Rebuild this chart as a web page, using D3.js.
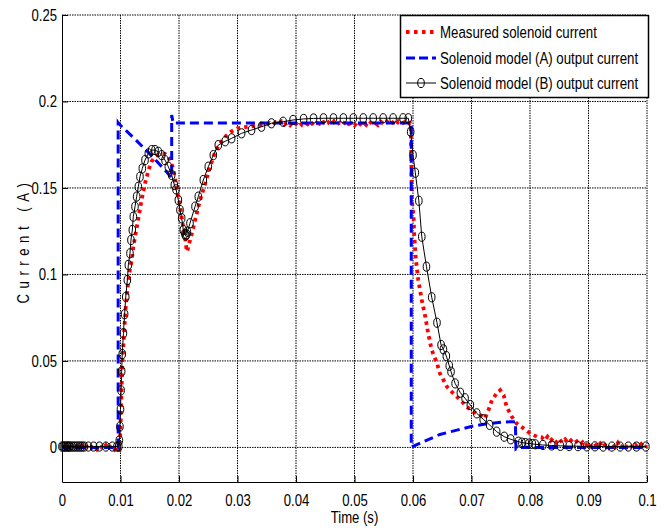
<!DOCTYPE html>
<html>
<head>
<meta charset="utf-8">
<script src="https://cdn.jsdelivr.net/npm/d3@7"></script>
<style>
  body { margin: 0; background: #fff; }
  text { font-family: "Liberation Sans Narrow", "Arial Narrow", "Liberation Sans", sans-serif; fill: #000; }
</style>
</head>
<body>
<svg id="chart" width="665" height="530"></svg>
<script>
// Axis ticks
const timeTicks = [0, 0.01, 0.02, 0.03, 0.04, 0.05, 0.06, 0.07, 0.08, 0.09, 0.1];
const timeTickLabels = ["0", "0.01", "0.02", "0.03", "0.04", "0.05", "0.06", "0.07", "0.08", "0.09", "0.1"];
const currentTicks = [0, 0.05, 0.1, 0.15, 0.2, 0.25];
const currentTickLabels = ["0", "0.05", "0.1", "0.15", "0.2", "0.25"];

// Series names
const seriesNames = ["Measured solenoid current", "Solenoid model (A) output current", "Solenoid model (B) output current"];

// Measured solenoid current (s, A)
const measuredTime = [
  0, 0.0005, 0.001, 0.0015, 0.002, 0.0025, 0.003, 0.0035, 0.004, 0.0045,
  0.005, 0.0055, 0.006, 0.0065, 0.007, 0.0075, 0.008, 0.0085, 0.009, 0.0095,
  0.0097, 0.0098, 0.0099, 0.0100, 0.0101, 0.0102, 0.0103, 0.0105, 0.0107, 0.0109,
  0.0111, 0.0113, 0.0115, 0.0119, 0.0122, 0.0126, 0.0131, 0.0136, 0.0142, 0.0148,
  0.0153, 0.0159, 0.0168, 0.0176, 0.0183, 0.0189, 0.0193, 0.0196, 0.0202, 0.0207,
  0.0211, 0.0213, 0.0214, 0.0216, 0.0222, 0.0229, 0.0236, 0.0245, 0.0253, 0.0261,
  0.0270, 0.0280, 0.0290, 0.0300, 0.0313, 0.0327, 0.0340, 0.0350,
  0.0355, 0.036, 0.0365, 0.037, 0.0375, 0.038, 0.0385, 0.039, 0.0395, 0.04,
  0.0405, 0.041, 0.0415, 0.042, 0.0425, 0.043, 0.0435, 0.044, 0.0445, 0.045,
  0.0455, 0.046, 0.0465, 0.047, 0.0475, 0.048, 0.0485, 0.049, 0.0495, 0.05,
  0.0505, 0.051, 0.0515, 0.052, 0.0525, 0.053, 0.0535, 0.054, 0.0545, 0.055,
  0.0555, 0.056, 0.0565, 0.057, 0.0575, 0.058, 0.0585, 0.059, 0.0595, 0.0596,
  0.0597, 0.0598, 0.0601, 0.0602, 0.0605, 0.0609, 0.0615, 0.0621, 0.0626, 0.0632,
  0.0641, 0.0646, 0.0652, 0.0658, 0.0669, 0.0681, 0.0692, 0.0703, 0.0715, 0.0723,
  0.0729, 0.0735, 0.0743, 0.0749, 0.0755, 0.0760, 0.0769, 0.0777, 0.0789, 0.0800,
  0.0812, 0.0820, 0.0825, 0.083, 0.0835, 0.084, 0.0845, 0.085, 0.0855, 0.086,
  0.0865, 0.087, 0.0875, 0.088, 0.0885, 0.089, 0.0895, 0.09, 0.0905, 0.091,
  0.0915, 0.092, 0.0925, 0.093, 0.0935, 0.094, 0.0945, 0.095, 0.0955, 0.096,
  0.0965, 0.097, 0.0975, 0.098, 0.0985, 0.099, 0.0995, 0.1
];
const measuredCurrent = [
  0.0000, 0.0008, -0.0006, 0.0004, -0.0008, 0.0006, -0.0004, 0.0010, -0.0007, 0.0012,
  -0.0005, 0.0015, -0.0010, 0.0012, -0.0008, 0.0014, -0.0009, 0.0011, -0.0012, 0.0009,
  -0.0020, -0.0035, 0.0020, 0.0120, 0.0240, 0.0360, 0.0470, 0.0600, 0.0710, 0.0810,
  0.0890, 0.0950, 0.1007, 0.1080, 0.1160, 0.1238, 0.1334, 0.1430, 0.1527, 0.1604,
  0.1652, 0.1680, 0.1700, 0.1698, 0.1671, 0.1623, 0.1565, 0.1490, 0.1392, 0.1276,
  0.1199, 0.1142, 0.1132, 0.1161, 0.1238, 0.1334, 0.1430, 0.1527, 0.1623, 0.1700,
  0.1757, 0.1800, 0.1828, 0.1845, 0.1852, 0.1858, 0.1864, 0.1868,
  0.1875, 0.1864, 0.1880, 0.1869, 0.1885, 0.1866, 0.1878, 0.1862, 0.1882, 0.1870,
  0.1888, 0.1865, 0.1879, 0.1868, 0.1884, 0.1863, 0.1877, 0.1871, 0.1889, 0.1866,
  0.1880, 0.1862, 0.1886, 0.1869, 0.1878, 0.1864, 0.1887, 0.1870, 0.1876, 0.1861,
  0.1884, 0.1868, 0.1881, 0.1865, 0.1888, 0.1870, 0.1877, 0.1863, 0.1883, 0.1869,
  0.1886, 0.1866, 0.1879, 0.1862, 0.1885, 0.1871, 0.1880, 0.1864, 0.1876, 0.1872,
  0.1700, 0.1430, 0.1334, 0.1237, 0.1083, 0.0968, 0.0852, 0.0756, 0.0659, 0.0563,
  0.0486, 0.0428, 0.0390, 0.0351, 0.0312, 0.0274, 0.0235, 0.0206, 0.0187, 0.0167,
  0.0216, 0.0274, 0.0312, 0.0331, 0.0302, 0.0235, 0.0177, 0.0139, 0.0110, 0.0081,
  0.0062, 0.0058, 0.0040, 0.0062, 0.0038, 0.0055, 0.0030, 0.0050, 0.0028, 0.0046,
  0.0025, 0.0040, 0.0022, 0.0035, 0.0015, 0.0030, 0.0008, 0.0028, 0.0005, 0.0025,
  0.0002, 0.0022, 0.0000, 0.0024, -0.0002, 0.0020, 0.0000, 0.0026, -0.0004, 0.0018,
  0.0001, 0.0022, -0.0003, 0.0016, 0.0000, 0.0019, -0.0002, 0.0010
];

// Solenoid model (A) output current (s, A)
const modelATime = [
  0, 0.0096, 0.0096, 0.0099, 0.0125, 0.015, 0.0175, 0.01875, 0.01875, 0.0190,
  0.0597, 0.0597, 0.0618, 0.0646, 0.0675, 0.0703, 0.0732, 0.0755, 0.0775, 0.0776,
  0.0780, 0.1
];
const modelACurrent = [
  0, 0, 0.1878, 0.1865, 0.1782, 0.1697, 0.1607, 0.1558, 0.1922, 0.1875,
  0.1875, 0.0002, 0.0033, 0.0075, 0.0100, 0.0124, 0.0139, 0.0147, 0.0149, -0.0008,
  0, 0
];

// Solenoid model (B) output current (s, A), one marker per solver step
const modelBTime = [
  0, 0.0002, 0.0004, 0.0006, 0.0008, 0.0010, 0.0012, 0.0014, 0.0017, 0.0020,
  0.0023, 0.0026, 0.0029, 0.0032, 0.0035, 0.0038, 0.0045, 0.0054, 0.0064, 0.0075,
  0.0086, 0.0094, 0.0097, 0.0098, 0.0099, 0.0100, 0.0101, 0.0102, 0.0103, 0.0105,
  0.0107, 0.0109, 0.01117, 0.01134, 0.01162, 0.01179, 0.01202, 0.01219, 0.01248, 0.01276,
  0.01305, 0.01333, 0.01373, 0.01419, 0.01476, 0.01533, 0.01590, 0.01647, 0.01704, 0.01761,
  0.01818, 0.01875, 0.01920, 0.01949, 0.01989, 0.02017, 0.02046, 0.02074, 0.02100, 0.02115,
  0.02130, 0.02143, 0.02188, 0.02274, 0.02330, 0.02416, 0.02501, 0.02587, 0.02672, 0.0279,
  0.0290, 0.0307, 0.0324, 0.0341, 0.0358, 0.0378, 0.0395, 0.0413, 0.0430, 0.0447,
  0.0464, 0.0481, 0.0498, 0.0515, 0.0532, 0.0549, 0.0566, 0.0583, 0.0592, 0.0596,
  0.0600, 0.0604, 0.0610, 0.0615, 0.0623, 0.0632, 0.0641, 0.0648, 0.0652, 0.0657,
  0.0662, 0.0665, 0.0672, 0.0681, 0.0689, 0.0698, 0.0709, 0.0720, 0.0731, 0.0743,
  0.0756, 0.0767, 0.0780, 0.0786, 0.0792, 0.0798, 0.0804, 0.0809, 0.0822, 0.0837,
  0.0852, 0.0867, 0.0882, 0.0897, 0.0911, 0.0925, 0.0940, 0.0954, 0.0968, 0.0982,
  0.0998
];
const modelBCurrent = [
  0.0005, 0.0005, 0.0005, 0.0005, 0.0005, 0.0005, 0.0005, 0.0005, 0.0005, 0.0005,
  0.0005, 0.0005, 0.0005, 0.0005, 0.0005, 0.0005, 0.0005, 0.0005, 0.0005, 0.0005,
  0.0005, 0.0005, 0.0006, 0.0040, 0.0120, 0.0220, 0.0330, 0.0440, 0.0540, 0.0660,
  0.0770, 0.0870, 0.0968, 0.1055, 0.1122, 0.1199, 0.1257, 0.1334, 0.1392, 0.1450,
  0.1507, 0.1565, 0.1613, 0.1661, 0.1700, 0.1719, 0.1719, 0.1709, 0.1690, 0.1661,
  0.1623, 0.1575, 0.1517, 0.1492, 0.1430, 0.1373, 0.1325, 0.1257, 0.1235, 0.1225,
  0.1232, 0.1247, 0.1296, 0.1392, 0.1450, 0.1546, 0.1623, 0.1690, 0.1748, 0.1770,
  0.1787, 0.1816, 0.1835, 0.1854, 0.1874, 0.1883, 0.1893, 0.1899, 0.1902, 0.1903,
  0.1903, 0.1903, 0.1903, 0.1903, 0.1903, 0.1903, 0.1903, 0.1903, 0.1903, 0.1825,
  0.1690, 0.1588, 0.1426, 0.1218, 0.1045, 0.0868, 0.0721, 0.0592, 0.0567, 0.0528,
  0.0472, 0.0438, 0.0370, 0.0316, 0.0284, 0.0245, 0.0197, 0.0163, 0.0130, 0.0091,
  0.0062, 0.0047, 0.0033, 0.0028, 0.0025, 0.0022, 0.0020, 0.0018, 0.0014, 0.0011,
  0.0009, 0.0008, 0.0007, 0.0006, 0.0006, 0.0005, 0.0005, 0.0005, 0.0005, 0.0005,
  0.0005
];

const width = 665, height = 530;
const margin = { top: 15, right: 18, bottom: 48, left: 62 };
const plotW = width - margin.left - margin.right;
const plotH = height - margin.top - margin.bottom;
const FONT = '"Liberation Sans Narrow", "Arial Narrow", "Liberation Sans", sans-serif';
const NARROW = 0.82; // horizontal squeeze for the condensed lettering

// Squeeze each text horizontally, keeping its anchor point
function condense(sel) {
  sel.each(function () {
    const w = this.getComputedTextLength();
    d3.select(this).attr("textLength", w * NARROW).attr("lengthAdjust", "spacingAndGlyphs");
  });
}

const svg = d3.select("#chart");
const g = svg.append("g").attr("transform", `translate(${margin.left},${margin.top})`);

const x = d3.scaleLinear().domain([0, 0.1]).range([0, plotW]);
const y = d3.scaleLinear().domain([-0.02, 0.25]).range([plotH, 0]);

// Dotted grid (top and right edges are grid lines as well)
g.append("g").selectAll("line").data(timeTicks.slice(1)).join("line")
  .attr("x1", d => x(d)).attr("x2", d => x(d))
  .attr("y1", 0).attr("y2", plotH)
  .attr("stroke", "#000").attr("stroke-width", 1).attr("stroke-dasharray", "1.5,1");
g.append("g").selectAll("line").data(currentTicks).join("line")
  .attr("x1", 0).attr("x2", plotW)
  .attr("y1", d => y(d)).attr("y2", d => y(d))
  .attr("stroke", "#000").attr("stroke-width", 1).attr("stroke-dasharray", "1.5,1");

// Axes with inward ticks
const xAxis = d3.axisBottom(x).tickValues(timeTicks)
  .tickFormat((d, i) => timeTickLabels[i]).tickSizeInner(-6).tickSizeOuter(0).tickPadding(13);
const yAxis = d3.axisLeft(y).tickValues(currentTicks)
  .tickFormat((d, i) => currentTickLabels[i]).tickSizeInner(-6).tickSizeOuter(0).tickPadding(5);

const gx = g.append("g").attr("transform", `translate(0,${plotH})`).call(xAxis);
const gy = g.append("g").call(yAxis);
[gx, gy].forEach(a => {
  a.select(".domain").attr("stroke", "#000").attr("stroke-width", 1);
  a.selectAll(".tick line").attr("stroke", "#000");
  a.selectAll(".tick text").attr("font-size", 16).attr("fill", "#000").style("font-family", FONT);
  condense(a.selectAll(".tick text"));
});

// Axis titles
svg.append("text")
  .attr("x", margin.left + plotW / 2).attr("y", 523)
  .attr("text-anchor", "middle").attr("font-size", 16)
  .text("Time (s)")
  .call(condense);

const yTitle = svg.append("text")
  .attr("transform", `translate(29,${margin.top + plotH / 2 - 8}) rotate(-90)`)
  .attr("text-anchor", "middle").attr("font-size", 16)
  .text("Current (A)");
{
  // letter-spaced title squeezed to the same narrow glyphs
  const node = yTitle.node();
  const w0 = node.getComputedTextLength();
  const n = "Current (A)".length;
  const target = 126;
  const ls = (target / NARROW - w0) / n;
  yTitle.attr("letter-spacing", ls);
  yTitle.attr("textLength", target).attr("lengthAdjust", "spacingAndGlyphs");
}

const line = d3.line().x(d => x(d[0])).y(d => y(d[1]));

const measured = d3.zip(measuredTime, measuredCurrent);
const modelA = d3.zip(modelATime, modelACurrent);
const modelB = d3.zip(modelBTime, modelBCurrent);

// Measured current: thick red dots
g.append("path").datum(measured)
  .attr("d", line).attr("fill", "none")
  .attr("stroke", "#ff0000").attr("stroke-width", 3.8)
  .attr("stroke-dasharray", "3.5,4");

// Model A: blue dashes
g.append("path").datum(modelA)
  .attr("d", line).attr("fill", "none")
  .attr("stroke", "#0000ff").attr("stroke-width", 3)
  .attr("stroke-dasharray", "9,5");

// Model B: thin black line with circle markers
g.append("path").datum(modelB)
  .attr("d", line).attr("fill", "none")
  .attr("stroke", "#000").attr("stroke-width", 1);
g.append("g").selectAll("ellipse").data(modelB).join("ellipse")
  .attr("cx", d => x(d[0])).attr("cy", d => y(d[1]))
  .attr("rx", 3.3).attr("ry", 4.6)
  .attr("fill", "none").attr("stroke", "#000").attr("stroke-width", 1);

// Legend
const legend = svg.append("g").attr("transform", "translate(400,15)");
legend.append("rect")
  .attr("x", 0.5).attr("y", 0.5).attr("width", 248).attr("height", 82)
  .attr("fill", "#fff").attr("stroke", "#000").attr("stroke-width", 1.5);
const rowY = [17, 43, 68];
const sampleX1 = 6, sampleX2 = 36;
legend.append("line")
  .attr("x1", sampleX1).attr("x2", sampleX2).attr("y1", rowY[0]).attr("y2", rowY[0])
  .attr("stroke", "#ff0000").attr("stroke-width", 3.8).attr("stroke-dasharray", "3.5,4.5");
legend.append("line")
  .attr("x1", sampleX1).attr("x2", sampleX2).attr("y1", rowY[1]).attr("y2", rowY[1])
  .attr("stroke", "#0000ff").attr("stroke-width", 3).attr("stroke-dasharray", "9,4");
legend.append("line")
  .attr("x1", sampleX1).attr("x2", sampleX2).attr("y1", rowY[2]).attr("y2", rowY[2])
  .attr("stroke", "#000").attr("stroke-width", 1);
legend.append("ellipse")
  .attr("cx", (sampleX1 + sampleX2) / 2).attr("cy", rowY[2])
  .attr("rx", 3.3).attr("ry", 4.6)
  .attr("fill", "none").attr("stroke", "#000").attr("stroke-width", 1);
// entry labels: squeezed by a horizontal scale on their own group
legend.selectAll("g.entry").data(seriesNames).join("g")
  .attr("class", "entry")
  .attr("transform", (d, i) => `translate(40,${rowY[i] + 6}) scale(0.78,1)`)
  .append("text")
  .attr("x", 0).attr("y", 0)
  .attr("font-size", 17)
  .text(d => d);
</script>
</body>
</html>
